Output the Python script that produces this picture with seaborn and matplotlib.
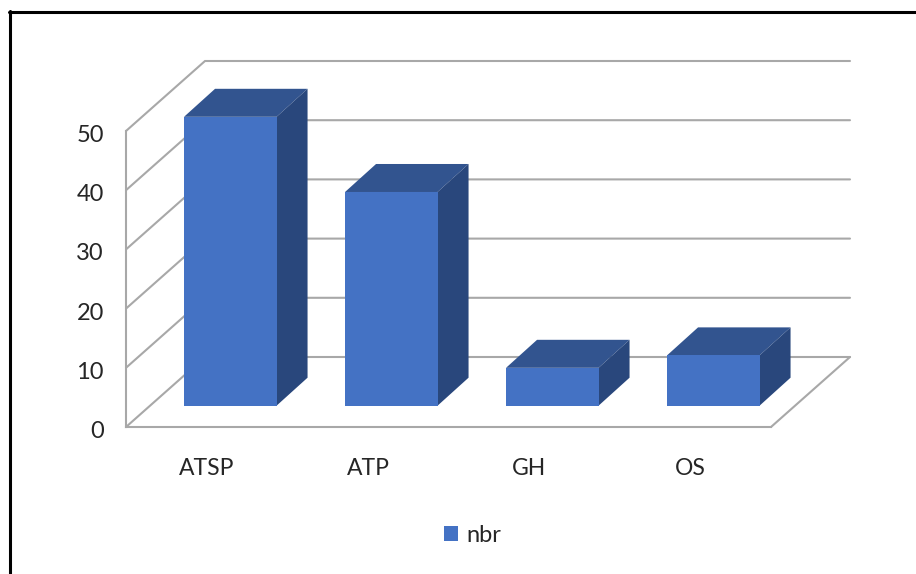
import matplotlib
matplotlib.use("Agg")
import matplotlib.pyplot as plt
import numpy as np
import pandas as pd
import seaborn as sns
from matplotlib.lines import Line2D
from matplotlib.patches import Polygon
from matplotlib.transforms import Affine2D, IdentityTransform

categories = ["ATSP", "ATP", "GH", "OS"]
values = [48.8, 36.1, 6.4, 8.5]
y_ticks = [0, 10, 20, 30, 40, 50]
series_name = "nbr"

FRONT = "#4472c4"
TOP = "#32548f"
SIDE = "#29477c"
GRID = "#a8a8a8"
TEXT = "#262626"
VALUE_SIZE = 17
CATEGORY_SIZE = 16.5

W, H = 916, 574
WALL_DEPTH = (79, 70)   # oblique shift of the back wall, in pixels
BAR_DEPTH = (31, 28)    # oblique depth of a bar, in pixels

sns.set_theme(style="white")
plt.rcParams["font.family"] = ["Lato", "DejaVu Sans"]

fig = plt.figure(figsize=(W / 100, H / 100), dpi=100, facecolor="white")


def box(left, top, right, bottom):
    return [left / W, 1 - bottom / H, (right - left) / W, (bottom - top) / H]


# Front plane of the chart box: value axis and category labels
wall = fig.add_axes(box(126, 131, 771, 427))
wall.set_ylim(0, 50)
wall.set_xlim((126 - 207) / 161, (771 - 207) / 161)
wall.set_xticks(range(len(categories)), categories)
wall.set_yticks(y_ticks)
wall.tick_params(axis="x", length=0, pad=22, labelsize=CATEGORY_SIZE, labelcolor=TEXT)
wall.tick_params(axis="y", length=0, pad=16, labelsize=VALUE_SIZE, labelcolor=TEXT)
for label in wall.get_yticklabels():
    label.set_verticalalignment("center_baseline")
    label.set_transform(label.get_transform() + Affine2D().translate(0, -2.5))
wall.patch.set_visible(False)
for name in ("top", "right"):
    wall.spines[name].set_visible(False)
for name in ("left", "bottom"):
    wall.spines[name].set_color(GRID)
    wall.spines[name].set_linewidth(1.5)

fig.canvas.draw()
dx, dy = WALL_DEPTH
x0_px = wall.transAxes.transform((0, 0))[0]
x1_px = wall.transAxes.transform((1, 0))[0]


def pixel_line(xs, ys):
    wall.add_line(Line2D(xs, ys, transform=IdentityTransform(), color=GRID,
                         lw=1.5, clip_on=False, zorder=1,
                         solid_joinstyle="miter"))


# Gridlines run across the side wall and then along the back wall
for tick in y_ticks:
    y_px = wall.transData.transform((0, tick))[1]
    pixel_line([x0_px, x0_px + dx, x1_px + dx],
               [y_px, y_px + dy, y_px + dy])
# Outer edge of the floor
y_px = wall.transData.transform((0, 0))[1]
pixel_line([x1_px, x1_px + dx], [y_px, y_px + dy])

# Plane of the bar fronts, sharing the value scale of the wall
px_per_unit = (427 - 131) / 50
base_y = 405.7
first_bar_x = 230.3
spacing = 161
plane = fig.add_axes([0, 0, 1, 1], facecolor="none")
plane.set_axis_off()

data = pd.DataFrame({"category": categories, "value": values})
sns.barplot(data=data, x="category", y="value", color=FRONT, saturation=1,
            width=92.5 / spacing, label=series_name, ax=plane, zorder=4,
            legend=False, linewidth=0)
plane.set_xlim(-first_bar_x / spacing, (W - first_bar_x) / spacing)
plane.set_ylim((base_y - H) / px_per_unit, base_y / px_per_unit)

fig.canvas.draw()
bx, by = BAR_DEPTH
for bar in plane.patches:
    left, right = bar.get_x(), bar.get_x() + bar.get_width()
    (xa, ya), (xb, yb) = plane.transData.transform(
        [(left, 0), (right, bar.get_height())])
    top_face = [(xa, yb), (xb, yb), (xb + bx, yb + by), (xa + bx, yb + by)]
    side_face = [(xb, ya), (xb + bx, ya + by), (xb + bx, yb + by), (xb, yb)]
    for pts, colour in ((top_face, TOP), (side_face, SIDE)):
        plane.add_patch(Polygon(pts, closed=True, transform=IdentityTransform(),
                                facecolor=colour, edgecolor="none", zorder=3,
                                clip_on=False))

handles = [plane.patches[0]]
fig.legend(handles, [series_name], loc="center", frameon=False,
           bbox_to_anchor=(472.5 / W, 1 - 535.5 / H), fontsize=VALUE_SIZE,
           handlelength=0.6, handleheight=0.62, handletextpad=0.32,
           labelcolor=TEXT)

# Black frame around the chart area, open at the lower and right edges
fig.add_artist(Line2D([10 / W, 10 / W], [0, 1 - 11 / H], color="black", lw=2.2))
fig.add_artist(Line2D([9 / W, 1], [1 - 12 / H, 1 - 12 / H], color="black", lw=2.2))

fig.savefig("out.png", dpi=100, facecolor="white")
